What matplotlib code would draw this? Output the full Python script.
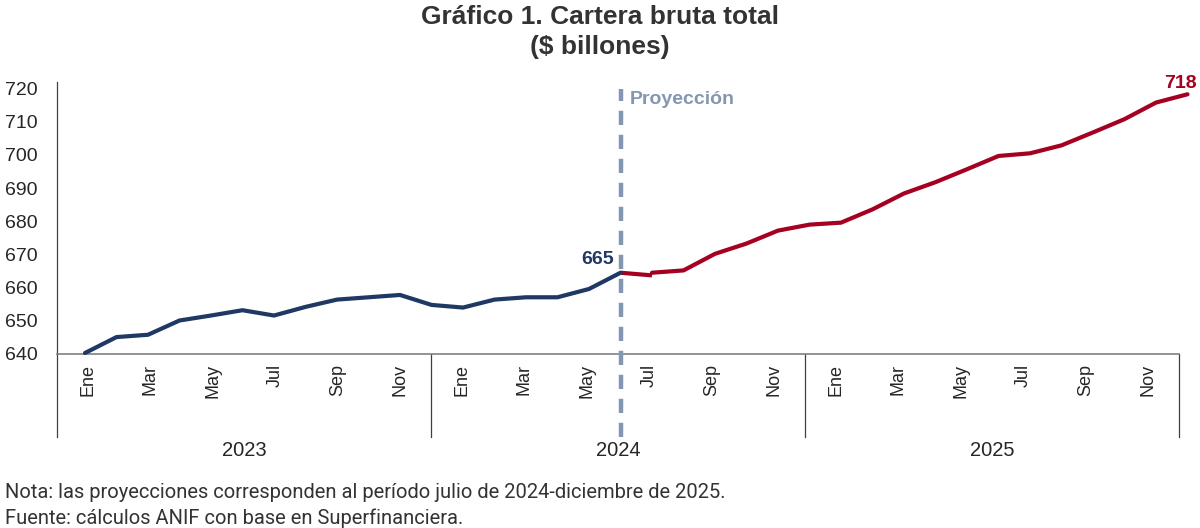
import numpy as np
import matplotlib.pyplot as plt
import matplotlib.transforms as mtransforms

# datos (billones de pesos)
meses = ["Ene", "Feb", "Mar", "Abr", "May", "Jun", "Jul", "Ago", "Sep", "Oct", "Nov", "Dic"]
anios = ["2023", "2024", "2025"]

historico = [640.3, 645.1, 645.8, 650.1, 651.6, 653.2, 651.6, 654.2, 656.4, 657.1, 657.8, 654.8,
             654.0, 656.4, 657.1, 657.1, 659.6, 664.5]
puente = [664.5, 663.7]  # jun-jul 2024
proyeccion = [664.5, 665.2, 670.2, 673.3, 677.2, 679.0,
              679.6, 683.6, 688.4, 691.8, 695.7, 699.7, 700.5, 702.9, 706.8, 710.8, 715.8, 718.3]

AZUL = "#1f3864"
ROJO = "#a50021"
GRIS_AZUL = "#8497b0"
TXT = "#262626"
SANS = ["Liberation Sans", "DejaVu Sans"]

fig = plt.figure(figsize=(12, 5.28), dpi=100)
rect = [57 / 1200, 1 - 354 / 528, (1179 - 57) / 1200, 272 / 528]
ax = fig.add_axes(rect)
# eje secundario para la serie (como en el original, ligeramente desplazado del eje de categorias)
axl = fig.add_axes(rect, facecolor="none")
axl.set_axis_off()

x_hist = np.arange(len(historico))
x_puente = np.arange(len(historico) - 1, len(historico) + 1)
x_proy = np.arange(len(historico), len(historico) + len(proyeccion))

axl.plot(x_hist, historico, color=AZUL, lw=3.0, solid_joinstyle="round", solid_capstyle="round",
         zorder=3, clip_on=False)
axl.plot(x_puente, puente, color=ROJO, lw=3.0, solid_capstyle="butt", zorder=2, clip_on=False)
axl.plot(x_proy, proyeccion, color=ROJO, lw=3.0, solid_joinstyle="round", solid_capstyle="round",
         zorder=2, clip_on=False)
axl.set_xlim(-0.889, 34.73)
axl.set_ylim(640, 722)

n = 12 * len(anios)
ax.set_xlim(-1, n - 1)
ax.set_ylim(640, 722)
ax.set_yticks(np.arange(640, 721, 10))
ax.tick_params(axis="y", length=0, pad=14, labelsize=14, labelcolor=TXT)
for lab in ax.get_yticklabels():
    lab.set_family(SANS)
ax.set_xticks([])

for s in ["top", "right"]:
    ax.spines[s].set_visible(False)
ax.spines["bottom"].set_color("#808080")
ax.spines["bottom"].set_linewidth(1.2)
ax.spines["left"].set_color("#404040")
ax.spines["left"].set_linewidth(0.9)

trans = mtransforms.blended_transform_factory(ax.transData, ax.transAxes)
ybot = -83 / 272

# separadores de anio
for k in range(len(anios) + 1):
    xs = -1 + 12 * k
    ax.plot([xs, xs], [0, ybot], transform=trans, color="#404040", lw=0.9, clip_on=False)

# etiquetas de mes y anio
for i in range(n):
    if i % 2 == 0:
        ax.text(i, -0.035, meses[i % 12], transform=trans, rotation=90, ha="center", va="top",
                fontsize=13, color=TXT, family=SANS)
for k, a in enumerate(anios):
    ax.text(-1 + 12 * k + 6, ybot - 0.015, a, transform=trans, ha="center", va="top",
            fontsize=14.5, color=TXT, family=SANS)

# linea de proyeccion
transl = mtransforms.blended_transform_factory(axl.transData, axl.transAxes)
xp = len(historico) - 1
axl.plot([xp, xp], [ybot, 0.975], transform=transl, color=GRIS_AZUL, lw=3.2,
         dashes=(3.2, 2.2), clip_on=False, zorder=1)
axl.text(xp + 0.3, 0.935, "Proyección", transform=transl, ha="left", va="center",
         fontsize=14, fontweight="bold", color=GRIS_AZUL, family=SANS)

# etiquetas de datos
axl.text(xp - 0.2, historico[-1] + 1.3, "665", ha="right", va="bottom",
         fontsize=14, fontweight="bold", color=AZUL, family=SANS)
axl.text(x_proy[-1] + 0.3, proyeccion[-1] + 0.8, "718", ha="right", va="bottom",
         fontsize=14, fontweight="bold", color=ROJO, family=SANS, clip_on=False)

fig.text(0.5, 1 - 17 / 528, "Gráfico 1. Cartera bruta total", ha="center", va="center",
         fontsize=19, fontweight="bold", color="#333333", family=SANS)
fig.text(0.5, 1 - 47 / 528, "($ billones)", ha="center", va="center",
         fontsize=19, fontweight="bold", color="#333333", family=SANS)

fig.text(5 / 1200, 1 - 493 / 528, "Nota: las proyecciones corresponden al período julio de 2024-diciembre de 2025.",
         ha="left", va="center", fontsize=14.5, color="#333333", family=["Roboto", "DejaVu Sans"])
fig.text(5 / 1200, 1 - 518 / 528, "Fuente: cálculos ANIF con base en Superfinanciera.",
         ha="left", va="center", fontsize=14.5, color="#333333", family=["Roboto", "DejaVu Sans"])

fig.savefig("out.png", dpi=100)
